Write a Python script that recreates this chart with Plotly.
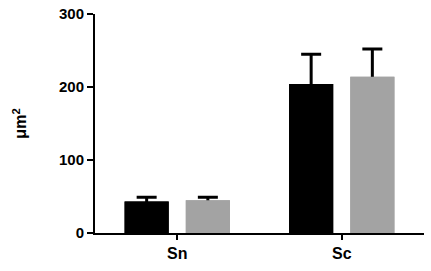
import plotly.graph_objects as go

categories = ["Sn", "Sc"]
black_values = [43, 204]
black_err = [6, 41]
gray_values = [45, 214]
gray_err = [4, 38]
y_ticks = [0, 100, 200, 300]

FAM = "Liberation Sans, Arial, sans-serif"
GRAY = "#a3a3a3"

fig = go.Figure()
# bars carrying the (symmetric) error bars
for vals, errs, col, grp in [(black_values, black_err, "black", "a"),
                             (gray_values, gray_err, GRAY, "b")]:
    fig.add_trace(go.Bar(
        x=categories, y=vals, offsetgroup=grp,
        marker=dict(color=col, line=dict(width=0)),
        error_y=dict(type="data", array=errs, symmetric=True,
                     color="black", thickness=3, width=10),
        showlegend=False, hoverinfo="skip",
    ))
# identical bars drawn on top so only the upper half of each error bar shows
for vals, col, grp in [(black_values, "black", "a"), (gray_values, GRAY, "b")]:
    fig.add_trace(go.Bar(
        x=categories, y=vals, offsetgroup=grp,
        marker=dict(color=col, line=dict(width=0)),
        showlegend=False,
    ))

fig.update_layout(
    width=431, height=271,
    margin=dict(l=95, r=7, t=14, b=38),
    paper_bgcolor="white", plot_bgcolor="white",
    barmode="group", bargap=0.256, bargroupgap=0.279,
    font=dict(family=FAM, size=15, color="black"),
)
fig.update_xaxes(
    range=[-0.5, 1.5], showline=True, linecolor="black", linewidth=2,
    ticks="outside", ticklen=5, tickwidth=2, tickcolor="black",
    tickfont=dict(family=FAM, size=16, color="black", weight="bold"),
    showgrid=False, zeroline=False, automargin=False,
)
fig.update_yaxes(
    range=[0, 300], tickvals=y_ticks, showline=True, linecolor="black", linewidth=2,
    ticks="outside", ticklen=6, tickwidth=2, tickcolor="black",
    ticklabeloverflow="allow", automargin=False,
    tickfont=dict(family=FAM, size=15, color="black", weight="bold"),
    showgrid=False, zeroline=False,
    title=dict(text="μm<sup>2</sup>", standoff=28,
               font=dict(family=FAM, size=16, color="black", weight="bold")),
)

fig.write_html("out.html", config={"displayModeBar": False},
               post_script="document.body.style.margin='0px';")
